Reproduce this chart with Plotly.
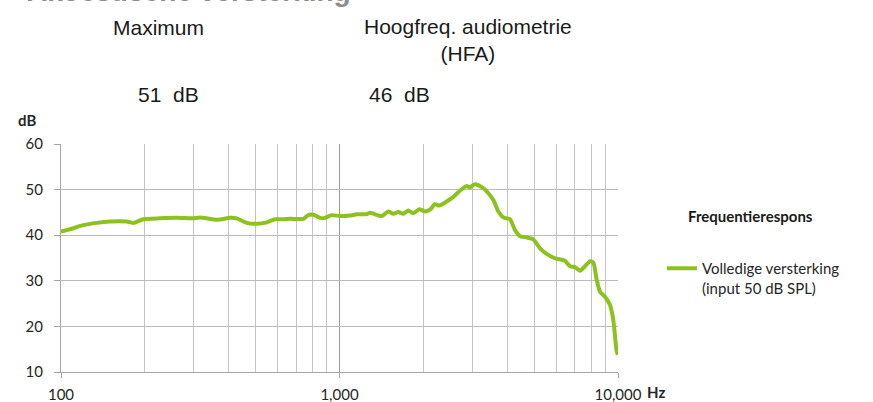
import plotly.graph_objects as go

# ---- data ----
freq_hz = [100, 107.7, 120.3, 134.3, 149.9, 172.2, 181.8, 197.5, 226.7, 260.3,
           298.5, 315.6, 362.4, 404.5, 427.5, 464.4, 504.3, 547.9, 586.7, 628.4,
           664.2, 741.3, 772.7, 805.3, 851.1, 887.0, 937.6, 1004, 1091, 1153,
           1252, 1287, 1418, 1497, 1561, 1626, 1695, 1766, 1841, 1934,
           2028, 2113, 2203, 2282, 2426, 2563, 2709, 2862, 2942, 3066,
           3284, 3423, 3568, 3718, 3875, 4095, 4268, 4447, 4701, 4965,
           5248, 5546, 5940, 6190, 6451, 6726, 7008, 7304, 7612, 7935,
           8153, 8386, 8619, 8981, 9361, 9618, 9893, 10000]
gain_db = [40.8, 41.3, 42.2, 42.7, 43.0, 43.0, 42.7, 43.5, 43.7, 43.8,
           43.7, 43.9, 43.4, 43.8, 43.7, 42.7, 42.5, 42.8, 43.5, 43.5,
           43.6, 43.6, 44.4, 44.5, 43.8, 43.8, 44.4, 44.2, 44.3, 44.6,
           44.6, 44.9, 44.2, 45.2, 44.7, 45.1, 44.7, 45.4, 44.8, 45.7,
           45.2, 45.6, 46.8, 46.5, 47.4, 48.4, 49.8, 50.8, 50.5, 51.2,
           50.3, 49.2, 47.7, 45.2, 43.9, 43.5, 41.1, 39.8, 39.5, 39.1,
           37.1, 35.9, 34.9, 34.7, 34.4, 33.2, 33.0, 32.2, 33.2, 34.3,
           34.0, 30.2, 27.6, 26.5, 24.7, 21.4, 14.5, 13.8]

x_tick_vals = [100, 1000, 10000]
x_tick_text = ["100", "1,000", "10,000"]
x_minor_vals = [200, 300, 400, 500, 600, 700, 800, 900,
                2000, 3000, 4000, 5000, 6000, 7000, 8000, 9000]
y_tick_vals = [10, 20, 30, 40, 50, 60]

series_name = "Volledige versterking<br>(input 50 dB SPL)"
legend_title = "Frequentierespons"
chart_title = "Akoestische versterking"
header_max = "Maximum"
header_hfa = "Hoogfreq. audiometrie<br>(HFA)"
value_max = "51\u00a0 dB"
value_hfa = "46\u00a0 dB"

# ---- layout helpers ----
W, H = 873, 402
L, R, T, B = 61, 618, 144, 372


def px(xp):
    return (xp - L) / (R - L)


def py(yp):
    return (B - yp) / (B - T)


fig = go.Figure()
fig.add_trace(go.Scatter(
    x=freq_hz, y=gain_db, mode="lines", name=series_name,
    line=dict(color="#8cc21e", width=4, shape="spline", smoothing=0.6),
    hoverinfo="skip", showlegend=True, cliponaxis=False,
))

lato = "Lato, 'Open Sans', sans-serif"
tick_font = dict(family=lato, size=15, color="#262626")

fig.update_layout(
    width=W, height=H,
    margin=dict(l=L, r=W - R, t=T, b=H - B, pad=0, autoexpand=False),
    paper_bgcolor="white", plot_bgcolor="white",
    showlegend=True,
    legend=dict(
        x=px(662), y=py(252), xanchor="left", yanchor="top",
        font=dict(family=lato, size=15, color="#262626"),
        bgcolor="rgba(0,0,0,0)", valign="top",
    ),
    xaxis=dict(
        type="log", range=[2, 4], automargin=False,
        tickvals=x_tick_vals, ticktext=x_tick_text,
        showgrid=True, gridcolor="#999999", gridwidth=1,
        minor=dict(tickvals=x_minor_vals, showgrid=True, gridcolor="#c4c4c4",
                   gridwidth=1, ticks=""),
        showline=True, linecolor="#a6a6a6", linewidth=1,
        ticks="outside", ticklen=5, tickcolor="#a6a6a6",
        tickfont=tick_font, ticklabelstandoff=4,
        zeroline=False, mirror=False,
    ),
    yaxis=dict(
        range=[10, 60], tickvals=y_tick_vals, automargin=False,
        showgrid=True, gridcolor="#bbbbbb", gridwidth=1,
        showline=True, linecolor="#a6a6a6", linewidth=1,
        ticks="outside", ticklen=6, tickcolor="#a6a6a6",
        tickfont=tick_font, ticklabelstandoff=8,
        zeroline=False,
    ),
)

arial = "'Liberation Sans', Arial, sans-serif"
annotations = [
    dict(text=chart_title, x=px(189), y=py(-8), xanchor="center", yanchor="middle",
         font=dict(family=arial, size=28, color="#8c8c8c", weight="bold")),
    dict(text=header_max, x=px(158), y=py(27), xanchor="center", yanchor="middle",
         font=dict(family=arial, size=21, color="#1a1a1a")),
    dict(text=header_hfa, x=px(468), y=py(40), xanchor="center", yanchor="middle",
         align="center", font=dict(family=arial, size=21, color="#1a1a1a")),
    dict(text=value_max, x=px(168), y=py(94), xanchor="center", yanchor="middle",
         font=dict(family=arial, size=21, color="#1a1a1a")),
    dict(text=value_hfa, x=px(400), y=py(94), xanchor="center", yanchor="middle",
         font=dict(family=arial, size=21, color="#1a1a1a")),
    dict(text="<b>dB</b>", x=px(27), y=py(120), xanchor="center", yanchor="middle",
         font=dict(family=lato, size=15, color="#262626")),
    dict(text="<b>Hz</b>", x=px(656), y=py(392), xanchor="center", yanchor="middle",
         font=dict(family=lato, size=15, color="#262626")),
    dict(text="<b>" + legend_title + "</b>", x=px(750), y=py(216), xanchor="center",
         yanchor="middle", font=dict(family=lato, size=15, color="#1a1a1a")),
]
for a in annotations:
    a.update(xref="paper", yref="paper", showarrow=False)
fig.update_layout(annotations=annotations)

fig.write_html("out.html", config={"displayModeBar": False},
               post_script="document.body.style.margin='0';"
                           "document.body.style.overflow='hidden';")
